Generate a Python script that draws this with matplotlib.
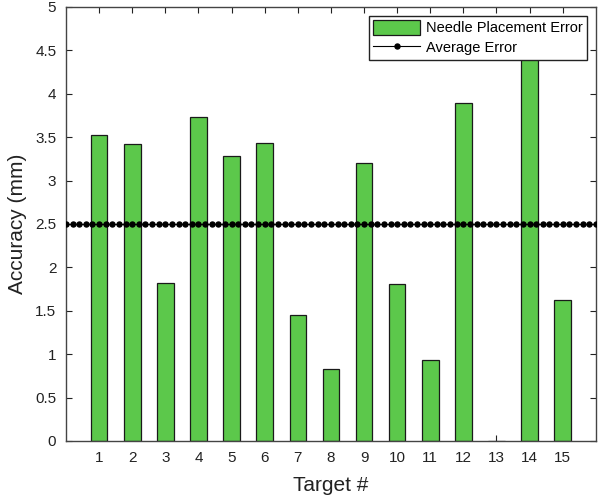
import numpy as np
import matplotlib
matplotlib.use("Agg")
import matplotlib.pyplot as plt

plt.rcParams['font.family'] = ['Liberation Sans', 'DejaVu Sans']

targets = list(range(1, 16))
errors = [3.53, 3.42, 1.82, 3.73, 3.28, 3.43, 1.45, 0.83, 3.20, 1.81, 0.93, 3.89, 0.0, 4.45, 1.62]
avg_error = 2.5
avg_x = np.arange(0, 16.01, 0.2)

fig = plt.figure(figsize=(6, 4.98), dpi=100)
ax = fig.add_axes([0.11, 0.1145, 0.883, 0.8715])

bars = ax.bar(targets, errors, width=0.5, color='#5cc84b', edgecolor='#1a1a1a',
              linewidth=0.9, label='Needle Placement Error', zorder=2)
avg_line, = ax.plot(avg_x, [avg_error] * len(avg_x), '-', color='black', linewidth=0.8,
                    marker='o', markersize=3.6, label='Average Error', zorder=3)

ax.set_xlim(0, 16)
ax.set_ylim(0, 5)
ax.set_xticks(targets)
ax.set_yticks(np.arange(0, 5.01, 0.5))
ax.set_yticklabels(['0', '0.5', '1', '1.5', '2', '2.5', '3', '3.5', '4', '4.5', '5'])
ax.tick_params(direction='in', top=True, right=True, length=4, width=0.8,
               labelsize=11, colors='#222222', pad=7)
for s in ax.spines.values():
    s.set_color('#444444')
    s.set_linewidth(1.0)

ax.set_xlabel('Target #', fontsize=15, color='#222222', labelpad=8)
ax.set_ylabel('Accuracy (mm)', fontsize=15, color='#222222', labelpad=6)

leg = ax.legend([bars, avg_line], ['Needle Placement Error', 'Average Error'],
                loc='upper right', numpoints=1, fancybox=False, fontsize=10.5,
                handlelength=3.2, handleheight=1.2, borderaxespad=0.6,
                borderpad=0.3, labelspacing=0.3, handletextpad=0.4, framealpha=1)
leg.get_frame().set_edgecolor('#222222')
leg.get_frame().set_linewidth(1.0)
leg.set_zorder(5)

fig.savefig('out.png', dpi=100)
